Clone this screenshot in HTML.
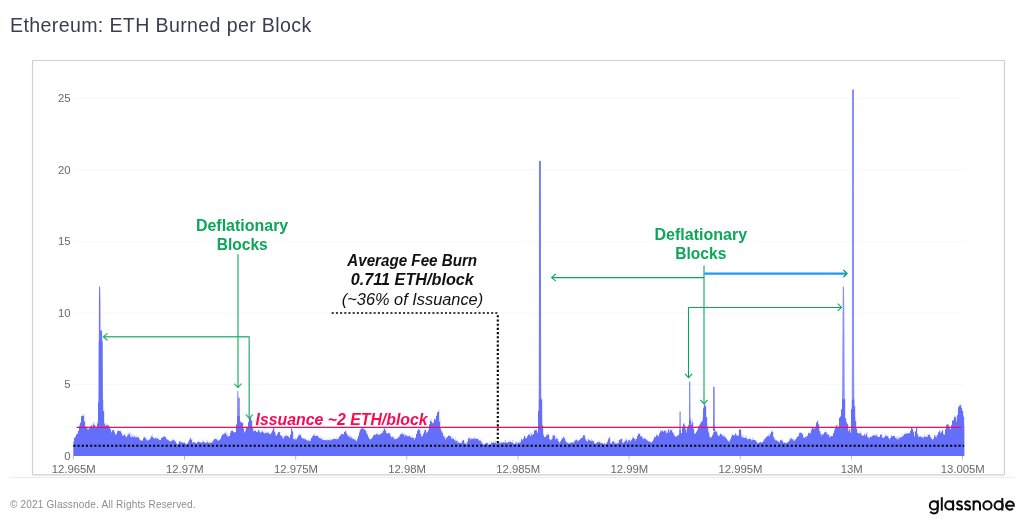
<!DOCTYPE html>
<html>
<head>
<meta charset="utf-8">
<title>Ethereum: ETH Burned per Block</title>
<style>
html,body{margin:0;padding:0;background:#fff;}
body{width:1022px;height:522px;position:relative;overflow:hidden;font-family:"Liberation Sans",sans-serif;}
#title{will-change:transform;position:absolute;left:10.3px;top:14.2px;font-size:19.6px;line-height:22px;color:#3b3d4f;letter-spacing:0.36px;white-space:nowrap;}
#foot{will-change:transform;position:absolute;left:9.6px;top:499.2px;font-size:10px;line-height:12px;color:#8d8d8d;letter-spacing:0.19px;white-space:nowrap;}
svg{position:absolute;left:0;top:0;will-change:transform;font-family:"Liberation Sans",sans-serif;}
.ax text{font-size:11.3px;fill:#686868;}
.grid line{stroke:#f8f8f8;stroke-width:1;}
.tk line{stroke:#bbb;stroke-width:1;}
.g{fill:#0ca659;font-weight:700;font-size:16px;}
.k{fill:#111;font-size:16px;font-style:italic;}
</style>
</head>
<body>
<div id="title">Ethereum: ETH Burned per Block</div>
<svg width="1022" height="522" viewBox="0 0 1022 522">
<rect x="32.5" y="60.5" width="972" height="414.4" rx="0.8" fill="#fff" stroke="#d0d0d0" stroke-width="1.2"/>
<line x1="9.5" x2="1014.5" y1="477.5" y2="477.5" stroke="#ececec" stroke-width="1"/>
<g class="grid"><line x1="73.4" x2="964.3" y1="384.44" y2="384.44"/><line x1="73.4" x2="964.3" y1="312.88" y2="312.88"/><line x1="73.4" x2="964.3" y1="241.32" y2="241.32"/><line x1="73.4" x2="964.3" y1="169.76" y2="169.76"/><line x1="73.4" x2="964.3" y1="98.20" y2="98.20"/></g>
<g class="tk"><line x1="73.4" x2="73.4" y1="456" y2="459.5"/><line x1="184.5" x2="184.5" y1="456" y2="459.5"/><line x1="295.7" x2="295.7" y1="456" y2="459.5"/><line x1="406.8" x2="406.8" y1="456" y2="459.5"/><line x1="518.0" x2="518.0" y1="456" y2="459.5"/><line x1="629.1" x2="629.1" y1="456" y2="459.5"/><line x1="740.2" x2="740.2" y1="456" y2="459.5"/><line x1="851.4" x2="851.4" y1="456" y2="459.5"/><line x1="962.5" x2="962.5" y1="456" y2="459.5"/></g>
<path d="M73.4 456V441.3H73.9V439.8H74.4V437.9H74.9V437.1H75.4V436.5H75.9V435.8H76.4V434.3H76.9V431.7H77.4V433.9H77.9V433.3H78.4V430.9H78.9V428.9H79.4V424H79.9V422.2H80.4V422.7H80.9V420.5H81.4V415.2H81.9V416.1H82.4V415.6H82.9V413.3H83.4V415.7H83.9V414.3H84.4V421.4H84.9V419.6H85.4V426.5H85.9V426.6H86.4V426.3H86.9V426.5H87.4V428.8H87.9V427.2H88.4V429.4H88.9V428.9H89.4V428H89.9V427.2H90.4V426.4H90.9V425.3H91.4V425.1H91.9V423H92.4V426.5H92.9V425.1H93.4V422.4H93.9V421.2H94.4V424.9H94.9V424.9H95.4V425.5H95.9V425.2H96.4V426.7H96.9V426.2H97.4V421H97.9V422.8H98.4V400.4H98.9V399.4H99.4V398H99.9V399.5H100.4V398.6H100.9V399.8H101.4V399.2H101.9V397.7H102.4V398.3H102.9V399.9H103.4V411.1H103.9V411.1H104.4V423.3H104.9V423.4H105.4V425.9H105.9V425.9H106.4V424.2H106.9V423H107.4V425.2H107.9V424.9H108.4V424.6H108.9V425.7H109.4V426.2H109.9V427.8H110.4V429.2H110.9V429.3H111.4V431.9H111.9V431.9H112.4V430.3H112.9V429.5H113.4V429.9H113.9V429.4H114.4V432.3H114.9V432.3H115.4V434.7H115.9V434.2H116.4V433.8H116.9V433.1H117.4V430.3H117.9V430H118.4V430.7H118.9V430.9H119.4V430.7H119.9V430.8H120.4V431.1H120.9V431.2H121.4V433.1H121.9V433H122.4V435.3H122.9V435.5H123.4V434.8H123.9V435.1H124.4V433.6H124.9V433.3H125.4V435.9H125.9V436.1H126.4V437.2H126.9V436.7H127.4V432.8H127.9V435.4H128.4V432.9H128.9V431.2H129.4V432.9H129.9V432.4H130.4V436.4H130.9V433.4H131.4V437.1H131.9V434.3H132.4V434.4H132.9V436.7H133.4V435.6H133.9V434.5H134.4V436.6H134.9V436.5H135.4V436.2H135.9V437.2H136.4V435.1H136.9V437.2H137.4V435.8H137.9V437.2H138.4V437.3H138.9V435.2H139.4V439.2H139.9V439.2H140.4V440.1H140.9V440.5H141.4V440.5H141.9V440.5H142.4V440.6H142.9V437.5H143.4V437.4H143.9V436H144.4V437.3H144.9V436.3H145.4V438.1H145.9V437.8H146.4V439.6H146.9V440.1H147.4V438.5H147.9V440.1H148.4V439.7H148.9V438.1H149.4V439.7H149.9V436.4H150.4V438.1H150.9V438H151.4V435.1H151.9V436.4H152.4V433.6H152.9V436.3H153.4V438H153.9V437H154.4V438.7H154.9V438.8H155.4V437H155.9V438H156.4V437.2H156.9V438.7H157.4V437.9H157.9V435.4H158.4V438.9H158.9V438.6H159.4V440.1H159.9V440.1H160.4V439.7H160.9V439.2H161.4V437.4H161.9V437.7H162.4V437.3H162.9V435.3H163.4V436.8H163.9V436.6H164.4V435.6H164.9V436.5H165.4V437.1H165.9V437H166.4V439.1H166.9V439.1H167.4V439.5H167.9V439.2H168.4V440H168.9V440.4H169.4V440.5H169.9V440.9H170.4V441.1H170.9V438.5H171.4V440.8H171.9V440.7H172.4V440.1H172.9V439.6H173.4V438.5H173.9V439.2H174.4V440.6H174.9V440.7H175.4V441.6H175.9V441.1H176.4V443.2H176.9V443.4H177.4V443.9H177.9V444.2H178.4V441.3H178.9V442.9H179.4V441.4H179.9V439.3H180.4V441.9H180.9V441.6H181.4V442.4H181.9V442.5H182.4V442.6H182.9V441.4H183.4V442.4H183.9V442.4H184.4V440.4H184.9V442.9H185.4V443.7H185.9V443.2H186.4V444.2H186.9V443.6H187.4V442.5H187.9V443.6H188.4V441.5H188.9V441.2H189.4V439.6H189.9V436.4H190.4V437.4H190.9V437.8H191.4V439.8H191.9V438.2H192.4V441.8H192.9V442.5H193.4V441.2H193.9V442.1H194.4V442.3H194.9V442.3H195.4V442.8H195.9V442.8H196.4V443.6H196.9V442.3H197.4V441.5H197.9V440.6H198.4V440.9H198.9V441.7H199.4V441.8H199.9V442H200.4V441.3H200.9V442.3H201.4V442.8H201.9V442.3H202.4V439.2H202.9V441.9H203.4V439.8H203.9V441.7H204.4V442.4H204.9V442.4H205.4V442.2H205.9V440.6H206.4V441.9H206.9V442.9H207.4V439.9H207.9V441.7H208.4V442.7H208.9V440.7H209.4V442.5H209.9V442.3H210.4V442.2H210.9V439.9H211.4V442.6H211.9V441.1H212.4V441.3H212.9V440H213.4V440.2H213.9V439.3H214.4V438.6H214.9V438.9H215.4V438.7H215.9V438.2H216.4V439.2H216.9V437H217.4V440.2H217.9V440.2H218.4V440.7H218.9V438.3H219.4V439.7H219.9V439.7H220.4V438.7H220.9V438.5H221.4V435.7H221.9V435.4H222.4V433.8H222.9V433.6H223.4V434.1H223.9V433.4H224.4V433.2H224.9V431.8H225.4V431.9H225.9V431.3H226.4V435H226.9V433.1H227.4V434.6H227.9V434.2H228.4V436.2H228.9V436.2H229.4V435.7H229.9V435.1H230.4V431.1H230.9V431.2H231.4V430.3H231.9V428.9H232.4V430.4H232.9V431H233.4V431.8H233.9V431.8H234.4V431.9H234.9V432.7H235.4V431.8H235.9V431.4H236.4V424.4H236.9V422.7H237.4V421.3H237.9V420.5H238.4V421.1H238.9V421.3H239.4V418.5H239.9V421.1H240.4V420.4H240.9V421.6H241.4V422.4H241.9V422.3H242.4V422.9H242.9V421.9H243.4V428.6H243.9V427.9H244.4V432.2H244.9V432.4H245.4V429.4H245.9V429H246.4V425.8H246.9V427H247.4V426.6H247.9V426.3H248.4V421.1H248.9V416.9H249.4V417.8H249.9V417.7H250.4V417.5H250.9V416.4H251.4V420.6H251.9V420.4H252.4V427.8H252.9V426.3H253.4V431H253.9V428.5H254.4V430.9H254.9V430.9H255.4V429.8H255.9V430.4H256.4V431.9H256.9V431.3H257.4V432H257.9V429.8H258.4V429.4H258.9V428.9H259.4V431.1H259.9V431.6H260.4V432.8H260.9V432.6H261.4V429.9H261.9V431.7H262.4V429.5H262.9V431.5H263.4V432.5H263.9V432.5H264.4V431.5H264.9V433.4H265.4V433H265.9V431.1H266.4V432.6H266.9V432.5H267.4V432.7H267.9V431.7H268.4V431.6H268.9V432.5H269.4V433.8H269.9V433.8H270.4V434.3H270.9V432.3H271.4V432.3H271.9V431.1H272.4V430.5H272.9V429.3H273.4V426.9H273.9V427.7H274.4V431.6H274.9V431.5H275.4V432.8H275.9V434.8H276.4V435.9H276.9V434.9H277.4V433.1H277.9V431.5H278.4V432.3H278.9V432.1H279.4V431.8H279.9V431.8H280.4V434.9H280.9V435.1H281.4V436H281.9V436H282.4V434.9H282.9V436.9H283.4V438.4H283.9V434.9H284.4V436.6H284.9V436.5H285.4V433H285.9V434.7H286.4V434.9H286.9V435.4H287.4V435.8H287.9V435.3H288.4V436.5H288.9V436.5H289.4V437.8H289.9V437.8H290.4V434.4H290.9V428.9H291.4V427.3H291.9V428.2H292.4V431H292.9V431.3H293.4V438.9H293.9V438.4H294.4V438.9H294.9V438.1H295.4V437H295.9V439.2H296.4V439.1H296.9V438.2H297.4V437.2H297.9V436.8H298.4V434.8H298.9V433.7H299.4V433.9H299.9V434.3H300.4V433.6H300.9V434.6H301.4V437H301.9V437.4H302.4V438.3H302.9V437.8H303.4V438.5H303.9V438.4H304.4V437.8H304.9V438.4H305.4V438.6H305.9V439.1H306.4V439.9H306.9V440H307.4V440.2H307.9V440.6H308.4V440H308.9V438.3H309.4V441.1H309.9V440.5H310.4V439.3H310.9V440.1H311.4V437.6H311.9V434.6H312.4V436.6H312.9V435.9H313.4V435.2H313.9V434H314.4V433.3H314.9V435.5H315.4V436H315.9V435.6H316.4V435.3H316.9V435.1H317.4V435.8H317.9V435.5H318.4V435.9H318.9V437.2H319.4V437.9H319.9V435.4H320.4V438.4H320.9V438H321.4V438.5H321.9V437.5H322.4V439.9H322.9V437H323.4V439.9H323.9V440H324.4V440H324.9V439.9H325.4V440H325.9V439.9H326.4V439.5H326.9V438.8H327.4V440.4H327.9V440.4H328.4V440.1H328.9V439.2H329.4V437.4H329.9V439.6H330.4V440.4H330.9V439H331.4V439.5H331.9V439.6H332.4V439.4H332.9V438.2H333.4V437.7H333.9V438.5H334.4V438.8H334.9V438.7H335.4V438.9H335.9V436.2H336.4V439.2H336.9V438.7H337.4V437.6H337.9V437.6H338.4V438.4H338.9V437.9H339.4V436.1H339.9V436.4H340.4V434.1H340.9V435.2H341.4V432.4H341.9V434H342.4V434H342.9V434H343.4V434.4H343.9V433.5H344.4V431.9H344.9V430.3H345.4V431H345.9V431H346.4V433.3H346.9V433.2H347.4V435.3H347.9V434.9H348.4V435.7H348.9V436.3H349.4V434.8H349.9V435.5H350.4V437.5H350.9V436H351.4V435.9H351.9V436.8H352.4V438.8H352.9V437.3H353.4V438.5H353.9V439H354.4V439.6H354.9V437H355.4V439.4H355.9V440H356.4V441.1H356.9V440.2H357.4V438.6H357.9V436.4H358.4V435.7H358.9V434.1H359.4V429.9H359.9V430H360.4V429.7H360.9V427.5H361.4V428.3H361.9V427.2H362.4V427.6H362.9V426.5H363.4V428.1H363.9V427.7H364.4V429.7H364.9V428.9H365.4V430.4H365.9V429.7H366.4V433H366.9V431.1H367.4V434.6H367.9V434.9H368.4V437.5H368.9V437.5H369.4V438.8H369.9V439H370.4V439.2H370.9V438.9H371.4V438.2H371.9V437.7H372.4V437.1H372.9V434.9H373.4V435.3H373.9V433.7H374.4V434.7H374.9V434.4H375.4V434H375.9V432.9H376.4V433.7H376.9V433.7H377.4V431.8H377.9V434.6H378.4V434.2H378.9V434.4H379.4V434.1H379.9V433.7H380.4V433.5H380.9V431.5H381.4V433.3H381.9V430.3H382.4V432.5H382.9V432.5H383.4V428.6H383.9V428.9H384.4V427.7H384.9V428H385.4V430.7H385.9V428.9H386.4V433H386.9V432.9H387.4V433.6H387.9V432.6H388.4V433H388.9V432.9H389.4V433.1H389.9V432.9H390.4V434.6H390.9V436H391.4V436H391.9V437.2H392.4V436.3H392.9V436.5H393.4V438H393.9V435.3H394.4V438.7H394.9V438H395.4V439.1H395.9V439.1H396.4V438.8H396.9V438.4H397.4V437.7H397.9V436.6H398.4V437.5H398.9V436.6H399.4V434.4H399.9V436H400.4V434.4H400.9V433.2H401.4V433.6H401.9V433.6H402.4V432H402.9V434H403.4V433.8H403.9V433.2H404.4V434.1H404.9V435.8H405.4V434.7H405.9V434.7H406.4V435.1H406.9V435.5H407.4V435.7H407.9V436.4H408.4V435.7H408.9V436.2H409.4V434.8H409.9V435.9H410.4V437H410.9V437H411.4V436.7H411.9V435.6H412.4V437.2H412.9V437.7H413.4V436.7H413.9V436.9H414.4V438.9H414.9V439.4H415.4V437.6H415.9V436H416.4V433.9H416.9V432.8H417.4V430.2H417.9V428.2H418.4V429.4H418.9V429H419.4V430H419.9V430H420.4V432.7H420.9V433.7H421.4V434.3H421.9V436.4H422.4V435.9H422.9V434.9H423.4V433.1H423.9V430.2H424.4V428.5H424.9V430.2H425.4V429.8H425.9V429.9H426.4V432.5H426.9V433H427.4V431.8H427.9V431.7H428.4V430.1H428.9V428H429.4V424.3H429.9V419.6H430.4V420.8H430.9V419H431.4V421.6H431.9V421.6H432.4V422.5H432.9V423.4H433.4V421.9H433.9V420.9H434.4V418.9H434.9V417.7H435.4V419.3H435.9V418.4H436.4V415H436.9V414.2H437.4V411.8H437.9V411.5H438.4V411.3H438.9V409H439.4V421.6H439.9V418.9H440.4V427.8H440.9V428.7H441.4V431.3H441.9V430.7H442.4V431.6H442.9V433H443.4V435.9H443.9V435.1H444.4V437.5H444.9V435.7H445.4V439.1H445.9V438.9H446.4V437.5H446.9V437.2H447.4V436.8H447.9V436.2H448.4V435.7H448.9V434.4H449.4V435.7H449.9V435.2H450.4V436H450.9V436.4H451.4V438.5H451.9V437.4H452.4V436.2H452.9V437.5H453.4V438.4H453.9V438.7H454.4V439.9H454.9V437H455.4V440.3H455.9V439.7H456.4V440.8H456.9V440.4H457.4V439.5H457.9V441H458.4V442H458.9V442.4H459.4V442.6H459.9V440.7H460.4V443H460.9V442.5H461.4V442.5H461.9V440.7H462.4V439.5H462.9V440H463.4V439.9H463.9V439.9H464.4V443.3H464.9V443H465.4V442.1H465.9V441.5H466.4V443.9H466.9V442.2H467.4V440.6H467.9V437.7H468.4V438.1H468.9V438.4H469.4V436.8H469.9V437.1H470.4V438.9H470.9V437.3H471.4V438.9H471.9V438.9H472.4V438.5H472.9V437.5H473.4V438.5H473.9V437.5H474.4V436.5H474.9V439H475.4V438.2H475.9V438H476.4V438.6H476.9V438.7H477.4V438.8H477.9V437.8H478.4V438.7H478.9V440H479.4V440.4H479.9V439.2H480.4V439.7H480.9V440.8H481.4V442.4H481.9V440.7H482.4V442H482.9V443.7H483.4V444.2H483.9V444H484.4V444.6H484.9V444.5H485.4V443.2H485.9V442.5H486.4V442.8H486.9V442.5H487.4V443H487.9V442.8H488.4V444.6H488.9V444.5H489.4V441.2H489.9V444.2H490.4V443.9H490.9V443.1H491.4V441.3H491.9V442.5H492.4V442.1H492.9V442.6H493.4V442.1H493.9V442.3H494.4V442.7H494.9V439.6H495.4V441.1H495.9V442.7H496.4V443.3H496.9V443.6H497.4V442.3H497.9V443.4H498.4V440.9H498.9V442.3H499.4V441.6H499.9V440.3H500.4V443.3H500.9V443.3H501.4V442.4H501.9V442.4H502.4V442.6H502.9V442.6H503.4V442H503.9V440.5H504.4V442.6H504.9V440.1H505.4V440.1H505.9V442.3H506.4V442.1H506.9V442.4H507.4V442.8H507.9V440.1H508.4V442H508.9V441.7H509.4V441.3H509.9V439.2H510.4V441.2H510.9V441.8H511.4V442.2H511.9V442.4H512.4V439.9H512.9V439.6H513.4V443.5H513.9V443.5H514.4V444H514.9V443.8H515.4V441.3H515.9V441.3H516.4V441.6H516.9V443.1H517.4V442H517.9V442.3H518.4V441.9H518.9V439.4H519.4V443H519.9V443H520.4V441.2H520.9V438.7H521.4V438.4H521.9V439H522.4V439.7H522.9V439.1H523.4V438.6H523.9V436.1H524.4V435.7H524.9V435.7H525.4V437.6H525.9V437.8H526.4V438H526.9V437.5H527.4V435.4H527.9V436H528.4V434H528.9V434.4H529.4V434.5H529.9V432.1H530.4V436.2H530.9V433.1H531.4V433.1H531.9V432.5H532.4V435H532.9V434.9H533.4V433.9H533.9V429.7H534.4V429.1H534.9V429.9H535.4V429.9H535.9V429.9H536.4V428.9H536.9V430.2H537.4V432.2H537.9V432.7H538.4V410.8H538.9V399.8H539.4V398.4H539.9V399H540.4V399.6H540.9V397.7H541.4V399.3H541.9V399.2H542.4V425.5H542.9V425.5H543.4V433.9H543.9V435.4H544.4V437.1H544.9V436.9H545.4V436.7H545.9V433.9H546.4V435.4H546.9V432.3H547.4V434.9H547.9V432.9H548.4V434H548.9V434.6H549.4V438.8H549.9V439H550.4V439.9H550.9V440H551.4V439.4H551.9V436.2H552.4V435.1H552.9V434.9H553.4V435H553.9V435.3H554.4V433.8H554.9V435.9H555.4V438.4H555.9V439.1H556.4V435.6H556.9V438.5H557.4V437.7H557.9V439H558.4V441.3H558.9V441.3H559.4V441.5H559.9V442.8H560.4V441.5H560.9V441H561.4V437.3H561.9V438.7H562.4V437.9H562.9V437.7H563.4V437.2H563.9V436H564.4V437.5H564.9V438.3H565.4V441H565.9V441H566.4V441.8H566.9V442H567.4V442.7H567.9V442.7H568.4V443H568.9V442.7H569.4V442.4H569.9V443.1H570.4V442.7H570.9V442.7H571.4V441.6H571.9V442.4H572.4V441.7H572.9V442.5H573.4V441.6H573.9V442.7H574.4V439.7H574.9V439.3H575.4V440H575.9V440.2H576.4V437.7H576.9V439.8H577.4V439.4H577.9V441.3H578.4V440.6H578.9V439.1H579.4V439.9H579.9V439.5H580.4V438.7H580.9V437.8H581.4V437.9H581.9V437.7H582.4V437.1H582.9V436.6H583.4V435.1H583.9V434.3H584.4V434.7H584.9V434.3H585.4V439.2H585.9V438.4H586.4V440.7H586.9V439.8H587.4V441.4H587.9V439H588.4V437.1H588.9V439.5H589.4V439.4H589.9V439.8H590.4V440.6H590.9V440.8H591.4V437.9H591.9V440.7H592.4V440.6H592.9V440.6H593.4V441.3H593.9V439.9H594.4V443.5H594.9V443.5H595.4V442.9H595.9V443.7H596.4V443.2H596.9V442.8H597.4V441.5H597.9V441.6H598.4V441.4H598.9V442.4H599.4V440.2H599.9V441.2H600.4V443H600.9V443H601.4V442.5H601.9V442.5H602.4V443.4H602.9V443.5H603.4V443.8H603.9V444H604.4V443.1H604.9V441.7H605.4V444.1H605.9V443.8H606.4V442.6H606.9V443.1H607.4V440.2H607.9V438H608.4V439H608.9V438.2H609.4V435.9H609.9V437.3H610.4V443.3H610.9V440.8H611.4V442.8H611.9V443.7H612.4V441.6H612.9V441.6H613.4V441.2H613.9V438.4H614.4V442.3H614.9V441.4H615.4V442.5H615.9V442.3H616.4V443.7H616.9V443.4H617.4V440.5H617.9V440.8H618.4V442.9H618.9V442.4H619.4V439.3H619.9V439.4H620.4V438.9H620.9V438.9H621.4V438.5H621.9V438.4H622.4V442.5H622.9V442.5H623.4V440.1H623.9V441.8H624.4V439.4H624.9V441.3H625.4V439.5H625.9V437.9H626.4V437.9H626.9V439.9H627.4V441.9H627.9V441.8H628.4V439.6H628.9V440.1H629.4V439.8H629.9V437.7H630.4V441.1H630.9V441.1H631.4V439.7H631.9V438.8H632.4V435.8H632.9V438.2H633.4V437.5H633.9V437H634.4V438.9H634.9V438.5H635.4V437.9H635.9V440.3H636.4V438.8H636.9V438.5H637.4V435.6H637.9V435.4H638.4V433.5H638.9V433.8H639.4V433.5H639.9V433.4H640.4V436H640.9V436H641.4V436.6H641.9V436.3H642.4V436.4H642.9V437.6H643.4V438.8H643.9V438.5H644.4V438.4H644.9V437.6H645.4V438.7H645.9V438.5H646.4V439.3H646.9V439.8H647.4V440.6H647.9V440.6H648.4V441.3H648.9V441.2H649.4V441.5H649.9V441.2H650.4V441.9H650.9V442.1H651.4V440.8H651.9V442.7H652.4V441.1H652.9V440.5H653.4V439.4H653.9V435.6H654.4V437.3H654.9V436.2H655.4V437.1H655.9V436.5H656.4V433.6H656.9V435.1H657.4V435.2H657.9V435.2H658.4V436.3H658.9V434.6H659.4V433.3H659.9V432.8H660.4V428.6H660.9V430.4H661.4V431.2H661.9V431H662.4V430.5H662.9V429.9H663.4V431.5H663.9V430.2H664.4V429.3H664.9V430.5H665.4V430.1H665.9V430.1H666.4V432.3H666.9V433H667.4V431.3H667.9V430.2H668.4V427.1H668.9V429.3H669.4V430.4H669.9V432.2H670.4V429.1H670.9V429.4H671.4V429.9H671.9V427.3H672.4V432.1H672.9V432.4H673.4V432.9H673.9V432.3H674.4V435.3H674.9V435.7H675.4V436.5H675.9V436.5H676.4V435.4H676.9V435.9H677.4V435.6H677.9V435.3H678.4V434.8H678.9V434.8H679.4V433.5H679.9V432.6H680.4V433.5H680.9V433.1H681.4V433.1H681.9V433H682.4V426.8H682.9V424.2H683.4V423.3H683.9V423.7H684.4V423.1H684.9V425.3H685.4V427.6H685.9V427.6H686.4V429.5H686.9V431.4H687.4V427.4H687.9V424.7H688.4V425.5H688.9V425.1H689.4V422.4H689.9V421.5H690.4V417.8H690.9V419.4H691.4V424.4H691.9V418.8H692.4V422.1H692.9V422.1H693.4V428.1H693.9V428.8H694.4V433.7H694.9V433.3H695.4V433.4H695.9V430.8H696.4V431.5H696.9V431.8H697.4V429.8H697.9V429.1H698.4V426H698.9V424.9H699.4V424.9H699.9V423.3H700.4V420.7H700.9V422.9H701.4V421.6H701.9V421.2H702.4V418H702.9V415.7H703.4V408.1H703.9V404.3H704.4V404.6H704.9V404.6H705.4V404H705.9V405.5H706.4V416.9H706.9V417.1H707.4V424.9H707.9V426.2H708.4V431H708.9V429.4H709.4V434.6H709.9V436.5H710.4V437.4H710.9V437.3H711.4V436.7H711.9V436.2H712.4V435H712.9V435H713.4V432H713.9V432H714.4V431.4H714.9V427.8H715.4V430.8H715.9V431.4H716.4V431.5H716.9V430.4H717.4V434.5H717.9V433.8H718.4V436H718.9V436H719.4V434H719.9V434.3H720.4V432.6H720.9V433.7H721.4V434.1H721.9V434H722.4V435.6H722.9V435.1H723.4V436.1H723.9V433.4H724.4V436.1H724.9V436.3H725.4V437.6H725.9V437.6H726.4V437.7H726.9V438.8H727.4V440.3H727.9V440.3H728.4V441.3H728.9V440H729.4V441H729.9V439.1H730.4V439.3H730.9V438.3H731.4V435.5H731.9V435.6H732.4V433.5H732.9V434.7H733.4V435.2H733.9V435.2H734.4V435.2H734.9V432.7H735.4V433.3H735.9V433.6H736.4V435.3H736.9V435.4H737.4V435.8H737.9V433.8H738.4V435.3H738.9V429.4H739.4V429H739.9V428.7H740.4V429.7H740.9V429.8H741.4V434.4H741.9V435H742.4V437.2H742.9V435.2H743.4V436.4H743.9V437.8H744.4V437.4H744.9V435.2H745.4V437.3H745.9V434.9H746.4V438.2H746.9V438.1H747.4V438.4H747.9V439.2H748.4V439H748.9V437.1H749.4V438.6H749.9V437.5H750.4V439.1H750.9V439.1H751.4V440.3H751.9V440.4H752.4V436.8H752.9V439.6H753.4V439.4H753.9V439.8H754.4V439.7H754.9V439.9H755.4V440H755.9V440.6H756.4V441.8H756.9V440.3H757.4V443.3H757.9V443.2H758.4V442.9H758.9V442.9H759.4V442.3H759.9V442.3H760.4V441.5H760.9V442H761.4V442.3H761.9V441.4H762.4V442.1H762.9V441.9H763.4V439.6H763.9V441H764.4V439H764.9V437.6H765.4V436.9H765.9V437.9H766.4V437.1H766.9V435.8H767.4V436.1H767.9V433.5H768.4V435.7H768.9V433.1H769.4V436.1H769.9V436H770.4V433.6H770.9V432H771.4V430.8H771.9V431.6H772.4V429.7H772.9V431.4H773.4V436.8H773.9V436.9H774.4V438.8H774.9V439.3H775.4V438.5H775.9V440.4H776.4V440H776.9V440H777.4V441.1H777.9V440.2H778.4V441.5H778.9V441H779.4V441.9H779.9V442H780.4V439.8H780.9V439.5H781.4V440.2H781.9V438.6H782.4V441.1H782.9V440.5H783.4V442.9H783.9V442.6H784.4V442.6H784.9V442.5H785.4V442.8H785.9V442.8H786.4V443.1H786.9V443H787.4V442H787.9V441.2H788.4V441.5H788.9V441H789.4V438.1H789.9V438.9H790.4V436.9H790.9V437.1H791.4V438.5H791.9V438.5H792.4V439.3H792.9V438.6H793.4V439.6H793.9V440.2H794.4V440.4H794.9V440H795.4V438.7H795.9V439.4H796.4V436.8H796.9V438.3H797.4V436.3H797.9V436.6H798.4V435.7H798.9V432.4H799.4V432.3H799.9V432.4H800.4V432.5H800.9V432.5H801.4V433H801.9V433H802.4V434.3H802.9V434.2H803.4V437.4H803.9V437.4H804.4V437.4H804.9V437.3H805.4V435H805.9V436.3H806.4V435.8H806.9V436.6H807.4V435.6H807.9V433.5H808.4V432.8H808.9V432.9H809.4V431.8H809.9V432.2H810.4V433.4H810.9V431.8H811.4V428.2H811.9V428.5H812.4V427.6H812.9V427.6H813.4V428.3H813.9V427H814.4V428.8H814.9V426.6H815.4V426.4H815.9V426.5H816.4V421.9H816.9V422H817.4V420.2H817.9V419.7H818.4V424.3H818.9V424.3H819.4V428.5H819.9V431H820.4V431.5H820.9V433.2H821.4V434.4H821.9V433.6H822.4V433.8H822.9V434.1H823.4V434.1H823.9V432.9H824.4V432.4H824.9V432.3H825.4V429.5H825.9V431.8H826.4V432.1H826.9V433.2H827.4V433.6H827.9V433.3H828.4V434.8H828.9V434.5H829.4V434.6H829.9V436.9H830.4V436.4H830.9V436.5H831.4V435.9H831.9V435.9H832.4V435.7H832.9V435.5H833.4V433.1H833.9V432.7H834.4V429.5H834.9V428.8H835.4V427.2H835.9V425.8H836.4V425H836.9V425.1H837.4V424.5H837.9V426.9H838.4V426.8H838.9V421.9H839.4V417.6H839.9V417H840.4V416.4H840.9V415H841.4V409H841.9V398.8H842.4V399.2H842.9V398.5H843.4V399.4H843.9V399.7H844.4V398.3H844.9V397.9H845.4V418.5H845.9V418.5H846.4V422H846.9V422.3H847.4V424.2H847.9V424.2H848.4V431.1H848.9V430H849.4V429H849.9V429.2H850.4V432.5H850.9V432.4H851.4V408.9H851.9V399.8H852.4V399.8H852.9V399.8H853.4V396.4H853.9V398.5H854.4V406.3H854.9V405.5H855.4V417.8H855.9V420.4H856.4V428.7H856.9V428.5H857.4V432.6H857.9V432.7H858.4V432.9H858.9V433.2H859.4V430.9H859.9V433.1H860.4V432.7H860.9V430.7H861.4V434.2H861.9V434.7H862.4V435.9H862.9V435.9H863.4V435.3H863.9V432.9H864.4V433H864.9V434.5H865.4V435.7H865.9V434H866.4V431.9H866.9V431.2H867.4V436.9H867.9V435.7H868.4V436.4H868.9V437H869.4V437.8H869.9V437.7H870.4V435.2H870.9V436.7H871.4V436.6H871.9V435.9H872.4V435.6H872.9V433.7H873.4V435H873.9V435.1H874.4V435H874.9V434.9H875.4V434.1H875.9V434.8H876.4V433.7H876.9V433.3H877.4V436.2H877.9V436.2H878.4V437H878.9V437H879.4V436.6H879.9V436.2H880.4V433.8H880.9V434.5H881.4V434.9H881.9V432.2H882.4V437.9H882.9V437.9H883.4V437.5H883.9V437.6H884.4V436.2H884.9V437.1H885.4V434.1H885.9V434H886.4V434.8H886.9V436H887.4V436.1H887.9V435.5H888.4V437.5H888.9V437.7H889.4V439.3H889.9V438.4H890.4V437H890.9V435.3H891.4V434.1H891.9V436.3H892.4V436.3H892.9V436.2H893.4V435.4H893.9V435.7H894.4V436.2H894.9V436.2H895.4V437.9H895.9V437.8H896.4V436.1H896.9V436.8H897.4V437.7H897.9V436.6H898.4V436.6H898.9V438.5H899.4V436.6H899.9V437.6H900.4V436.7H900.9V436.7H901.4V436.9H901.9V436.3H902.4V433.7H902.9V435.8H903.4V435.1H903.9V435.2H904.4V433.9H904.9V432H905.4V433.8H905.9V433.8H906.4V432.7H906.9V433.3H907.4V433.6H907.9V432.9H908.4V432.9H908.9V432.6H909.4V433.1H909.9V432.9H910.4V430.5H910.9V427.9H911.4V427.6H911.9V427.6H912.4V427.5H912.9V429.2H913.4V432.1H913.9V430.4H914.4V436.2H914.9V436.2H915.4V431H915.9V428H916.4V427.5H916.9V427.4H917.4V434.3H917.9V434H918.4V436.6H918.9V436.4H919.4V436.2H919.9V436.5H920.4V436.3H920.9V436.4H921.4V437.1H921.9V435.5H922.4V437.1H922.9V436.6H923.4V436.6H923.9V437.7H924.4V433.5H924.9V435.8H925.4V436.6H925.9V435H926.4V436.9H926.9V437.1H927.4V433.9H927.9V435.2H928.4V433.2H928.9V434.9H929.4V433.6H929.9V434.7H930.4V437.1H930.9V437H931.4V438.6H931.9V438.2H932.4V439.7H932.9V439.7H933.4V437.9H933.9V436.5H934.4V433.5H934.9V435.1H935.4V434.9H935.9V436.4H936.4V435H936.9V434.9H937.4V434.9H937.9V432.4H938.4V432H938.9V430.8H939.4V430.4H939.9V429.6H940.4V433H940.9V432.8H941.4V431H941.9V428.4H942.4V429.8H942.9V430.6H943.4V433.8H943.9V434.2H944.4V434.2H944.9V431.7H945.4V429H945.9V425.7H946.4V424.4H946.9V424.7H947.4V424.2H947.9V424H948.4V423.9H948.9V425.1H949.4V428.2H949.9V428.2H950.4V429.5H950.9V427.7H951.4V425.1H951.9V422.7H952.4V420.5H952.9V419.8H953.4V420.1H953.9V420.2H954.4V415H954.9V416.4H955.4V416.5H955.9V415.9H956.4V419H956.9V421.6H957.4V414.9H957.9V410.8H958.4V407H958.9V405H959.4V404.6H959.9V405.4H960.4V405H960.9V403.6H961.4V407.3H961.9V407.9H962.4V410.8H962.9V411H963.4V414.9H963.9V416.5H964.3V456Z" fill="#636EFA" fill-opacity="0.45"/>
<path d="M73.4 456V442H74V438.1H75V436.7H76V434.5H77V434.1H78V431.1H79V426H80V422.9H81V416.2H82V415.7H83V415.9H84V421.7H85V426.8H86V426.9H87V429.5H88V429.5H89V428.2H90V426.6H91V425.5H92V426.7H93V424.2H94V425H95V428.3H96V427.1H97V423.5H98V402.7H99V399.7H100V400.3H101V399.5H102V400H103V411.3H104V423.7H105V426.1H106V425.2H107V425.3H108V425.8H109V427.9H110V429.7H111V432.5H112V430.5H113V430.1H114V432.6H115V434.8H116V434.1H117V431.5H118V431H119V431H120V431.4H121V433.2H122V435.7H123V435.8H124V434.7H125V436.3H126V437.6H127V435.6H128V434.8H129V434H130V436.6H131V437.6H132V436.8H133V437.3H134V436.7H135V437.4H136V437.4H137V437.4H138V437.6H139V439.4H140V440.7H141V440.6H142V440.8H143V438.2H144V437.6H145V438.2H146V440.3H147V440.7H148V440.2H149V439.8H150V438.8H151V436.6H152V436.9H153V438.2H154V438.9H155V438.1H156V438.8H157V438.6H158V439.4H159V440.2H160V440H161V438H162V437.6H163V437H164V436.7H165V437.2H166V439.3H167V439.7H168V440.6H169V441.2H170V441.6H171V441.4H172V440.3H173V440.5H174V440.8H175V441.8H176V443.6H177V444.6H178V443.9H179V441.6H180V442H181V442.6H182V442.8H183V443H184V443.1H185V443.8H186V444.5H187V444.1H188V441.7H189V439.8H190V438.8H191V440H192V443.1H193V442.4H194V442.4H195V443H196V443.7H197V442.4H198V441.9H199V442.3H200V442.7H201V443H202V442.1H203V441.8H204V442.6H205V443.3H206V443.1H207V441.9H208V443H209V443.2H210V443H211V442.9H212V442.2H213V440.4H214V439.1H215V439H216V439.4H217V440.4H218V440.8H219V439.9H220V438.9H221V436.6H222V434.7H223V434.4H224V433.4H225V433.5H226V435.1H227V436.9H228V436.4H229V435.9H230V432.9H231V431H232V431.1H233V432H234V433.1H235V432H236V424.6H237V421.5H238V421.5H239V421.4H240V422.2H241V422.5H242V423.2H243V428.8H244V432.6H245V431.3H246V427.6H247V427H248V422.3H249V418H250V417.8H251V420.7H252V428H253V431.2H254V431.1H255V430.7H256V432H257V432.3H258V430.3H259V431.8H260V433.1H261V432.3H262V431.6H263V432.7H264V433.7H265V433.2H266V432.8H267V433.1H268V433.2H269V434H270V434.4H271V433.1H272V430.7H273V428.2H274V431.8H275V434.9H276V436H277V434H278V432.4H279V432H280V435.3H281V436.1H282V438H283V438.8H284V436.7H285V436.1H286V436.3H287V436H288V436.7H289V438H290V434.7H291V428.6H292V431.6H293V439H294V439.4H295V439.7H296V439.6H297V437.5H298V435.8H299V435.2H300V435.4H301V437.7H302V438.5H303V438.7H304V439.5H305V439.2H306V440.3H307V440.8H308V440.8H309V441.3H310V440.7H311V437.9H312V436.8H313V435.3H314V435.9H315V436.1H316V436.1H317V436.2H318V437.6H319V438.2H320V438.8H321V438.8H322V440.1H323V440.1H324V440.2H325V440.2H326V439.8H327V440.6H328V440.3H329V440H330V440.8H331V439.8H332V439.6H333V439.3H334V439.1H335V439.1H336V439.4H337V439.2H338V438.8H339V436.6H340V435.8H341V434.2H342V434.2H343V434.6H344V432H345V431.2H346V433.5H347V435.6H348V436.5H349V437.3H350V437.7H351V438.2H352V438.9H353V439.1H354V439.7H355V440.2H356V441.4H357V438.8H358V435.9H359V432.5H360V429.8H361V428.8H362V428.6H363V429.5H364V429.8H365V430.8H366V433.2H367V435.1H368V437.6H369V439.2H370V439.5H371V438.7H372V437.7H373V435.5H374V435.2H375V434.9H376V434H377V435H378V435.3H379V434.3H380V434.7H381V433.5H382V432.9H383V430.9H384V428.7H385V430.8H386V433.2H387V434H388V433.1H389V433.4H390V436.2H391V437.7H392V436.7H393V438.3H394V439.4H395V439.3H396V438.9H397V438.3H398V437.6H399V436.5H400V434.6H401V433.7H402V434.6H403V434.6H404V436.4H405V435.3H406V436H407V436.5H408V436.5H409V436.1H410V437.2H411V438H412V437.9H413V438.3H414V439.7H415V437.7H416V434H417V430.9H418V429.5H419V430.2H420V434.2H421V436.7H422V436.2H423V433.7H424V431.6H425V430.1H426V433.2H427V432H428V430.2H429V424.5H430V421H431V421.8H432V423.5H433V422.9H434V419H435V420.3H436V416.1H437V412.5H438V411.6H439V421.8H440V428.8H441V431.4H442V433.2H443V436.1H444V437.6H445V439.4H446V437.7H447V437H448V435.8H449V435.9H450V436.6H451V438.7H452V438.9H453V438.9H454V440H455V441.4H456V441H457V442.7H458V442.5H459V442.9H460V443.5H461V443.1H462V441H463V440.1H464V443.5H465V443.7H466V444.3H467V442.1H468V438.6H469V438.6H470V439.7H471V439.1H472V438.9H473V438.6H474V439.3H475V438.8H476V438.9H477V439H478V440.3H479V440.7H480V441H481V442.9H482V444.1H483V444.6H484V444.8H485V443.4H486V443H487V443.2H488V445.1H489V445H490V444H491V442.7H492V443H493V442.4H494V442.9H495V443H496V443.8H497V443.6H498V443.6H499V443.2H500V443.5H501V442.6H502V442.7H503V442.5H504V442.9H505V442.4H506V442.7H507V443H508V442.1H509V442H510V442H511V442.6H512V442.8H513V443.6H514V444.5H515V443.6H516V443.3H517V443.9H518V442.6H519V443.3H520V442.4H521V439.2H522V440.3H523V438.8H524V435.9H525V438H526V438.3H527V436.2H528V435H529V434.6H530V436.5H531V435.1H532V435.2H533V434H534V431.1H535V430.2H536V430.5H537V432.9H538V411H539V399.4H540V399.7H541V399.5H542V425.7H543V435.6H544V437.3H545V436.9H546V435.6H547V435.1H548V434.8H549V439.2H550V440.2H551V439.6H552V438.4H553V435.4H554V436H555V439.6H556V438.7H557V439.2H558V441.5H559V443.2H560V441.6H561V439.7H562V438.7H563V437.3H564V438.4H565V441.1H566V442.4H567V442.9H568V443.6H569V444H570V442.8H571V442.7H572V442.7H573V443.3H574V441.4H575V440.4H576V440.1H577V441.4H578V440.8H579V440.1H580V438.9H581V438.1H582V437.4H583V435.3H584V436.2H585V439.4H586V440.9H587V441.8H588V439.9H589V440.2H590V441H591V440.9H592V440.8H593V441.5H594V443.7H595V443.8H596V443.3H597V442H598V442.5H599V442.2H600V443.2H601V442.9H602V443.6H603V444.4H604V443.6H605V444.6H606V443.8H607V441.9H608V439.2H609V437.7H610V443.5H611V444.1H612V441.8H613V441.5H614V443.8H615V444.1H616V443.8H617V443.4H618V443.1H619V439.9H620V439.6H621V438.8H622V442.6H623V443.4H624V442H625V441.1H626V440H627V442.6H628V440.5H629V440.2H630V441.7H631V440.2H632V438.6H633V437.7H634V439.1H635V440.7H636V439H637V436H638V434H639V433.7H640V436.2H641V436.8H642V438.2H643V439.3H644V438.6H645V439H646V440.1H647V440.8H648V441.6H649V441.7H650V442.3H651V442.9H652V441.6H653V439.5H654V437.5H655V437.3H656V435.6H657V435.4H658V436.6H659V433.5H660V431.5H661V431.6H662V430.7H663V432.1H664V430.9H665V431.3H666V433.5H667V432.7H668V429.5H669V432.4H670V430.3H671V430.2H672V432.6H673V434.3H674V435.9H675V436.8H676V436.8H677V435.8H678V435H679V435.1H680V434.2H681V433.2H682V426.9H683V423.8H684V425.5H685V429.4H686V432.4H687V427.6H688V425.6H689V422.8H690V420.7H691V424.8H692V422.5H693V429H694V433.9H695V433.6H696V432.3H697V429.9H698V426.3H699V425.4H700V423.7H701V421.9H702V421.3H703V408.5H704V404.8H705V407.1H706V417.3H707V427.1H708V432.6H709V436.7H710V437.9H711V437.3H712V435.2H713V432.7H714V431.6H715V431.6H716V431.8H717V434.7H718V436.2H719V435.7H720V433.9H721V434.5H722V435.8H723V436.7H724V436.6H725V437.7H726V439H727V440.4H728V441.6H729V441.7H730V439.4H731V436.8H732V434.9H733V435.4H734V435.4H735V433.8H736V435.6H737V435.9H738V435.8H739V429.4H740V429.9H741V436.9H742V437.4H743V438H744V438.1H745V437.7H746V438.4H747V439.4H748V439.2H749V438.9H750V439.3H751V440.5H752V439.8H753V439.9H754V440.1H755V440.7H756V441.9H757V443.8H758V443H759V442.5H760V442.2H761V442.9H762V442.3H763V441.3H764V439.3H765V438.4H766V437.3H767V436.3H768V435.8H769V436.5H770V433.9H771V431.7H772V431.9H773V437H774V439.4H775V440.5H776V440.4H777V441.4H778V441.7H779V442.4H780V440H781V440.4H782V441.3H783V443.1H784V442.8H785V443H786V443.4H787V442.2H788V442H789V440.4H790V439H791V438.7H792V439.5H793V440.4H794V441H795V439.6H796V438.6H797V437H798V436H799V433.4H800V432.7H801V433.1H802V434.5H803V437.5H804V438.3H805V437H806V437.3H807V435.8H808V433H809V433.5H810V433.5H811V430H812V427.7H813V428.4H814V429H815V427.6H816V422.8H817V421.4H818V424.5H819V431.3H820V434H821V435.9H822V434.4H823V434.6H824V432.6H825V432H826V433.4H827V434.8H828V434.9H829V437.6H830V436.8H831V436.1H832V436.3H833V433.3H834V430.5H835V427.3H836V425.4H837V427.1H838V427H839V418.1H840V416.6H841V409.5H842V399.3H843V400.4H844V399.6H845V418.6H846V422.4H847V424.3H848V431.3H849V429.3H850V432.7H851V409.1H852V400.2H853V399.7H854V406.5H855V420.9H856V428.8H857V432.9H858V433.4H859V433.8H860V433.3H861V434.9H862V436H863V435.5H864V434.7H865V435.8H866V433.7H867V437.1H868V438.1H869V438.4H870V436.9H871V436.9H872V435.9H873V435.4H874V435.6H875V435.7H876V436H877V436.6H878V437.1H879V437.1H880V434.7H881V435.2H882V438.1H883V437.8H884V437.2H885V435.9H886V436.2H887V436.2H888V437.9H889V439.4H890V438H891V436.4H892V436.4H893V435.9H894V436.3H895V438.1H896V439.1H897V439.6H898V439.5H899V438.2H900V437.6H901V437.2H902V436.7H903V435.8H904V434.1H905V434.3H906V433.5H907V433.7H908V433.2H909V433.5H910V430.9H911V427.7H912V429.6H913V432.3H914V436.4H915V431.4H916V427.8H917V434.5H918V437.3H919V436.7H920V436.5H921V437.5H922V437.6H923V438.3H924V436.8H925V436.7H926V437.2H927V436.8H928V435H929V434.9H930V437.2H931V438.7H932V439.8H933V438.9H934V435.7H935V436.9H936V437.4H937V435H938V432.2H939V431.2H940V433.1H941V432.2H942V430.8H943V434.4H944V434.7H945V429.2H946V425.2H947V424.3H948V425.6H949V428.3H950V429.6H951V425.2H952V420.7H953V420.3H954V417H955V417.4H956V421.8H957V415.1H958V407.3H959V406.2H960V405.2H961V408.1H962V411.1H963V416.7H964V425.5H964.3V456Z" fill="#636EFA"/>
<path d="M99.10 286.4L98.95 300.0L98.90 330.5L98.90 330.6L98.80 341.0L102.30 341.0L102.00 330.6L100.50 330.5L100.40 300.0L100.10 286.4Z" fill="#636EFA" fill-opacity="0.95"/><path d="M237.30 391.0L237.20 397.6L237.20 397.7L237.06 416.0L239.94 416.0L239.80 397.7L238.40 397.6L238.30 391.0Z" fill="#636EFA" fill-opacity="0.8"/><path d="M539.00 161.0L538.90 300.0L538.80 390.0L538.63 412.0L541.37 412.0L541.20 390.0L541.00 300.0L540.90 161.0Z" fill="#636EFA" fill-opacity="0.9"/><path d="M679.40 411.6L679.25 430.0L680.95 430.0L680.80 411.6Z" fill="#636EFA" fill-opacity="0.7"/><path d="M689.10 381.5L689.00 420.0L690.50 420.0L690.30 381.5Z" fill="#636EFA" fill-opacity="0.8"/><path d="M704.00 405.0L703.70 408.0L705.20 408.0L705.00 405.0Z" fill="#636EFA" fill-opacity="0.85"/><path d="M713.10 386.8L713.01 425.0L714.87 425.0L714.70 386.8Z" fill="#636EFA" fill-opacity="0.82"/><path d="M842.80 286.8L842.50 333.0L842.10 400.0L842.04 405.0L844.76 405.0L844.70 400.0L844.40 333.0L844.00 286.8Z" fill="#636EFA" fill-opacity="0.78"/><path d="M852.00 89.6L851.95 347.0L851.80 400.0L854.30 400.0L854.05 347.0L854.00 89.6Z" fill="#636EFA" fill-opacity="0.76"/>
<path d="M98.80 341.0L98.60 342.0L98.50 400.0L98.20 415.0L97.80 425.0L104.00 425.0L103.30 415.0L102.90 400.0L102.70 342.0L102.30 341.0ZM237.06 416.0L237.00 424.0L240.00 424.0L239.94 416.0ZM538.63 412.0L538.60 416.0L538.60 416.1L538.60 434.0L542.40 434.0L542.00 416.1L541.40 416.0L541.37 412.0ZM679.25 430.0L679.20 436.0L681.00 436.0L680.95 430.0ZM689.00 420.0L688.80 428.0L690.70 428.0L690.50 420.0ZM703.70 408.0L703.40 411.0L703.20 415.0L702.60 423.0L702.00 430.0L707.00 430.0L706.60 423.0L705.90 415.0L705.40 411.0L705.20 408.0ZM713.01 425.0L713.00 431.0L714.90 431.0L714.87 425.0ZM842.04 405.0L841.90 418.0L844.90 418.0L844.76 405.0ZM851.80 400.0L851.70 420.0L854.50 420.0L854.30 400.0Z" fill="#636EFA"/>
<g class="ax"><text x="70.6" y="459.9" text-anchor="end">0</text><text x="70.6" y="388.3" text-anchor="end">5</text><text x="70.6" y="316.8" text-anchor="end">10</text><text x="70.6" y="245.2" text-anchor="end">15</text><text x="70.6" y="173.7" text-anchor="end">20</text><text x="70.6" y="102.1" text-anchor="end">25</text><text x="73.7" y="473.3" text-anchor="middle">12.965M</text><text x="184.8" y="473.3" text-anchor="middle">12.97M</text><text x="296.0" y="473.3" text-anchor="middle">12.975M</text><text x="407.1" y="473.3" text-anchor="middle">12.98M</text><text x="518.3" y="473.3" text-anchor="middle">12.985M</text><text x="629.4" y="473.3" text-anchor="middle">12.99M</text><text x="740.5" y="473.3" text-anchor="middle">12.995M</text><text x="851.7" y="473.3" text-anchor="middle">13M</text><text x="962.8" y="473.3" text-anchor="middle">13.005M</text></g>
<line x1="76.6" x2="961.2" y1="427.4" y2="427.4" stroke="#f90a52" stroke-width="1.2"/>
<line x1="73.35" x2="964.1" y1="445.8" y2="445.8" stroke="#000" stroke-width="1.9" stroke-dasharray="2.1 2.095"/>
<line x1="497.8" x2="497.8" y1="315.25" y2="446.8" stroke="#000" stroke-width="2.1" stroke-dasharray="2.1 2.095"/>
<line x1="331.7" x2="498.9" y1="313" y2="313" stroke="#000" stroke-width="1.4" stroke-dasharray="2.05 2.145"/>
<g fill="none" stroke="#0ca659" stroke-width="1.4" stroke-opacity="0.78" stroke-linejoin="round" stroke-linecap="butt">
<path d="M238 254.3V387"/>
<path d="M103.6 336.8H249.2V417.6"/>
<path d="M704 265.5V403.2"/>
<path d="M234.3 383.6L237.9 387.5L241.5 383.6"/>
<path d="M245.7 414.4L249.3 418.3L252.9 414.4"/>
<path d="M107.5 333.2L103.3 336.8L107.5 340.4"/>
</g>
<g fill="none" stroke="#0ca659" stroke-width="1.1" stroke-linejoin="round">
<path d="M552 277.6H704"/>
<path d="M688.5 377V307.5H841.2"/>
<path d="M555.8 274.0L551.6 277.6L555.8 281.2"/>
<path d="M685.0 373.8L688.6 377.7L692.2 373.8"/>
<path d="M700.4 399.9L704.0 403.8L707.6 399.9"/>
<path d="M837.7 303.7L841.6 307.3L837.7 310.9"/>
</g>
<line x1="704.3" x2="846" y1="273.6" y2="273.6" stroke="#2196f3" stroke-width="2.4"/>
<path d="M843.3 270.0L847.2 273.6L843.3 277.2" fill="none" stroke="#0ca659" stroke-width="1.3" stroke-linejoin="round"/>
<text class="g" x="242.1" y="230.7" text-anchor="middle" textLength="92.3" lengthAdjust="spacingAndGlyphs">Deflationary</text>
<text class="g" x="242.2" y="250.1" text-anchor="middle" textLength="50.9" lengthAdjust="spacingAndGlyphs">Blocks</text>
<text class="g" x="700.8" y="239.5" text-anchor="middle" textLength="92.6" lengthAdjust="spacingAndGlyphs">Deflationary</text>
<text class="g" x="700.8" y="258.8" text-anchor="middle" textLength="51" lengthAdjust="spacingAndGlyphs">Blocks</text>
<text class="k" font-weight="700" x="412.2" y="265.5" text-anchor="middle" textLength="129.8" lengthAdjust="spacingAndGlyphs">Average Fee Burn</text>
<text class="k" font-weight="700" x="412.3" y="285.1" text-anchor="middle" textLength="123.2" lengthAdjust="spacingAndGlyphs">0.711 ETH/block</text>
<text class="k" x="412.5" y="304.9" text-anchor="middle" textLength="141.3" lengthAdjust="spacingAndGlyphs">(~36% of Issuance)</text>
<text x="255.6" y="425.2" font-size="16" font-weight="700" font-style="italic" fill="#f90a52" textLength="172" lengthAdjust="spacingAndGlyphs">Issuance ~2 ETH/block</text>
<g id="logo" fill="none" stroke="#0d0d0d" stroke-width="2.0">
<circle cx="933.9" cy="505.45" r="4.1"/>
<path d="M937.75 500.3V509.6C937.75 512 936 513.45 933.9 513.45C932.3 513.45 931 512.8 930.2 511.7"/>
<path d="M941.8 497.2V510.6"/>
<circle cx="949.3" cy="505.45" r="4.1"/>
<path d="M953.05 500.3V510.6"/>
<path d="M962.1 502.6C961.6 501.7 960.7 501.3 959.6 501.3C958.2 501.3 957.2 502.1 957.2 503.2C957.2 504.4 958.2 504.9 959.6 505.3C961.2 505.8 962.1 506.4 962.1 507.6C962.1 508.9 961 509.6 959.6 509.6C958.3 509.6 957.2 509 956.8 507.9"/>
<path d="M970.1 502.6C969.6 501.7 968.7 501.3 967.6 501.3C966.2 501.3 965.2 502.1 965.2 503.2C965.2 504.4 966.2 504.9 967.6 505.3C969.2 505.8 970.1 506.4 970.1 507.6C970.1 508.9 969 509.6 967.6 509.6C966.3 509.6 965.2 509 964.8 507.9"/>
<path d="M973.6 500.4V510.6M973.6 504.6A3.2 3.25 0 0 1 980 504.6V510.6"/>
<circle cx="987.45" cy="505.45" r="4.1"/>
<circle cx="998.7" cy="505.45" r="4.1"/>
<path d="M1002.3 497.9V510.6"/>
<path d="M1006.1 505.7H1013.9A3.9 4.1 0 1 0 1012.9 508.3"/>
</g>
</svg>
<div id="foot">© 2021 Glassnode. All Rights Reserved.</div>
</body>
</html>
